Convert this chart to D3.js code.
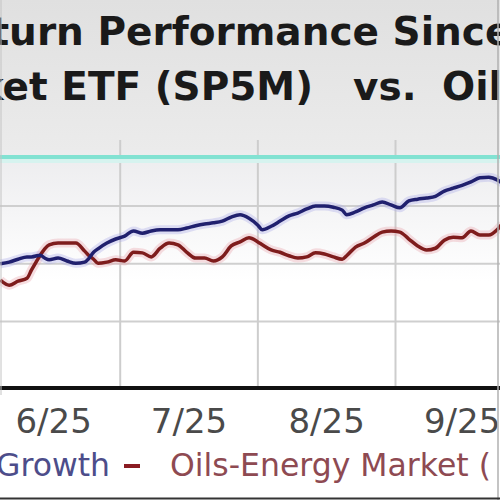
<!DOCTYPE html>
<html>
<head>
<meta charset="utf-8">
<script src="https://cdn.jsdelivr.net/npm/d3@7"></script>
<style>
	body { margin: 0; background: #fff; }
	svg { display: block; }
</style>
</head>
<body>
<div id="chart"></div>
<script>
// dates (day of the daily series), values are % return since start
let dates = [
	"2025-06-04", "2025-06-06", "2025-06-08", "2025-06-10", "2025-06-11", "2025-06-13", "2025-06-14", "2025-06-15",
	"2025-06-17", "2025-06-19", "2025-06-21", "2025-06-23", "2025-06-24", "2025-06-25", "2025-06-26", "2025-06-28",
	"2025-06-30", "2025-07-02", "2025-07-04", "2025-07-06", "2025-07-08", "2025-07-10", "2025-07-12", "2025-07-14",
	"2025-07-16", "2025-07-18", "2025-07-20", "2025-07-22", "2025-07-24", "2025-07-26", "2025-07-28", "2025-07-30",
	"2025-08-01", "2025-08-02", "2025-08-04", "2025-08-06", "2025-08-08", "2025-08-10", "2025-08-12", "2025-08-14",
	"2025-08-16", "2025-08-18", "2025-08-20", "2025-08-21", "2025-08-23", "2025-08-25", "2025-08-27", "2025-08-29",
	"2025-08-31", "2025-09-02", "2025-09-04", "2025-09-06", "2025-09-08", "2025-09-10", "2025-09-12", "2025-09-14",
	"2025-09-16", "2025-09-18", "2025-09-20", "2025-09-22", "2025-09-24", "2025-09-25"
];
let growth = [
	0.0, 0.3, 0.8, 1.2, 1.2, 1.5, 1.0, 0.7,
	1.0, 0.5, 0.1, 0.3, 1.0, 2.0, 2.6, 3.6,
	4.3, 4.8, 5.7, 5.3, 5.7, 5.9, 5.9, 5.9,
	6.2, 6.6, 6.9, 7.1, 7.4, 8.1, 8.5, 7.9,
	6.7, 5.9, 6.5, 7.4, 8.3, 8.8, 9.5, 10.0,
	10.0, 9.8, 9.3, 8.5, 9.0, 9.7, 10.2, 10.7,
	10.2, 9.7, 10.9, 11.2, 11.4, 11.7, 12.6, 13.1,
	13.6, 14.2, 14.9, 15.0, 14.5, 14.0
];
let oils = [
	-2.8, -3.7, -3.0, -2.5, -1.1, 1.5, 2.6, 3.3,
	3.6, 3.6, 3.6, 2.2, 1.4, 0.8, 0.1, 0.3,
	0.7, 0.5, 2.0, 1.9, 1.2, 2.7, 3.6, 3.3,
	2.0, 1.0, 1.0, 0.5, 1.2, 3.1, 3.8, 4.5,
	3.8, 3.3, 2.4, 2.0, 1.4, 1.0, 1.2, 1.9,
	1.7, 1.2, 0.8, 1.4, 2.9, 3.6, 4.6, 5.5,
	5.7, 5.5, 4.3, 3.1, 2.4, 2.7, 4.1, 4.6,
	4.5, 5.7, 5.0, 5.0, 6.0, 6.9
];
let gridValues = [-10, 0, 10];
let titleLine1 = "Return Performance Since";
let titleLine2 = ["Market ETF (SP5M)", "vs.", "Oils-Energy"];
let legendLabels = ["Growth", "Oils-Energy Market ("];

let panel = {
	width: 500,
	height: 500
};

let parse = d3.timeParse("%Y-%m-%d");
let rows = dates.map((d, i) => {
	return { date: parse(d), growth: growth[i], oils: oils[i] };
});

let svg = d3.select("#chart")
	.append("svg")
	.attr("width", panel.width)
	.attr("height", panel.height);

let defs = svg.append("defs");
let bg = defs.append("linearGradient").attr("id", "bg").attr("x1", 0).attr("y1", 0).attr("x2", 0).attr("y2", 1);
bg.append("stop").attr("offset", "0%").attr("stop-color", "#e0e0e0");
bg.append("stop").attr("offset", "100%").attr("stop-color", "#ebebeb");
let plotBg = defs.append("linearGradient").attr("id", "plotBg").attr("x1", 0).attr("y1", 0).attr("x2", 0).attr("y2", 1);
plotBg.append("stop").attr("offset", "0%").attr("stop-color", "#ececee");
plotBg.append("stop").attr("offset", "55%").attr("stop-color", "#ffffff");
plotBg.append("stop").attr("offset", "100%").attr("stop-color", "#ffffff");

// header background
svg.append("rect")
	.attr("x", 0).attr("y", 0)
	.attr("width", panel.width).attr("height", 150)
	.attr("fill", "url(#bg)");

// plot area
let plot = { top: 150, bottom: 388 };
svg.append("rect")
	.attr("x", 0).attr("y", plot.top)
	.attr("width", panel.width).attr("height", plot.bottom - plot.top)
	.attr("fill", "url(#plotBg)");

let x = d3.scaleTime()
	.domain([new Date(2025, 5, 1), new Date(2025, 9, 1)])
	.range([-13, 528.7]);
let y = d3.scaleLinear()
	.domain([-21.5, 18.5])
	.range([388, 157]);

// horizontal grid
svg.append("g")
	.selectAll("line")
	.data(gridValues)
	.enter().append("line")
	.attr("x1", 0)
	.attr("x2", panel.width)
	.attr("y1", (d) => { return y(d); })
	.attr("y2", (d) => { return y(d); })
	.attr("stroke", "#cfcfcf")
	.attr("stroke-width", 2);

// vertical grid at month boundaries
let months = x.ticks(d3.timeMonth.every(1));
svg.append("g")
	.selectAll("line")
	.data(months)
	.enter().append("line")
	.attr("x1", (d) => { return x(d); })
	.attr("x2", (d) => { return x(d); })
	.attr("y1", 140)
	.attr("y2", plot.bottom)
	.attr("stroke", "#cdcdcd")
	.attr("stroke-width", 2);

// cyan top line
svg.append("rect")
	.attr("x", 0).attr("y", y(18.5) - 2)
	.attr("width", panel.width).attr("height", 4)
	.attr("fill", "#82e2d3");
svg.append("rect")
	.attr("x", 0).attr("y", y(18.5) + 2)
	.attr("width", panel.width).attr("height", 4)
	.attr("fill", "#d6f3ef");

// lines
let lineGrowth = d3.line()
	.x((d) => { return x(d.date); })
	.y((d) => { return y(d.growth); })
	.curve(d3.curveMonotoneX);
let lineOils = d3.line()
	.x((d) => { return x(d.date); })
	.y((d) => { return y(d.oils); })
	.curve(d3.curveMonotoneX);

svg.append("path").datum(rows).attr("d", lineOils)
	.attr("fill", "none").attr("stroke", "#e7a0a8").attr("stroke-width", 9).attr("opacity", 0.35);
svg.append("path").datum(rows).attr("d", lineGrowth)
	.attr("fill", "none").attr("stroke", "#a8a8e8").attr("stroke-width", 9).attr("opacity", 0.35);
svg.append("path").datum(rows).attr("d", lineOils)
	.attr("fill", "none").attr("stroke", "#7e1c1c").attr("stroke-width", 3.5).attr("stroke-linejoin", "round");
svg.append("path").datum(rows).attr("d", lineGrowth)
	.attr("fill", "none").attr("stroke", "#20206e").attr("stroke-width", 3.5).attr("stroke-linejoin", "round");

// x axis
svg.append("line")
	.attr("x1", 0).attr("x2", panel.width)
	.attr("y1", plot.bottom).attr("y2", plot.bottom)
	.attr("stroke", "#111").attr("stroke-width", 4);

let fmt = d3.timeFormat("%-m/%y");
svg.append("g")
	.selectAll("text")
	.data(months.slice(0, -1))
	.enter().append("text")
	.attr("x", (d) => { return (x(d) + x(d3.timeMonth.offset(d, 1))) / 2; })
	.attr("y", 433)
	.attr("text-anchor", "middle")
	.attr("font-family", "DejaVu Sans")
	.attr("font-size", 34)
	.attr("fill", "#4a4a4a")
	.text((d) => { return fmt(d); });

// title
svg.append("text")
	.attr("x", -66).attr("y", 45)
	.attr("font-family", "DejaVu Sans").attr("font-weight", "bold")
	.attr("font-size", 39).attr("fill", "#1a1a1a")
	.text(titleLine1);
let t2x = [313, 353, 442];
let t2anchor = ["end", "start", "start"];
svg.append("g")
	.selectAll("text")
	.data(titleLine2)
	.enter().append("text")
	.attr("x", (d, i) => { return t2x[i]; })
	.attr("y", 100)
	.attr("text-anchor", (d, i) => { return t2anchor[i]; })
	.attr("font-family", "DejaVu Sans").attr("font-weight", "bold")
	.attr("font-size", 39).attr("fill", "#1a1a1a")
	.text((d) => { return d; });

// legend
svg.append("text")
	.attr("x", 110).attr("y", 476)
	.attr("text-anchor", "end")
	.attr("font-family", "DejaVu Sans").attr("font-size", 31.5)
	.attr("fill", "#4d4d8a")
	.text(legendLabels[0]);
svg.append("line")
	.attr("x1", 124).attr("x2", 140)
	.attr("y1", 466).attr("y2", 466)
	.attr("stroke", "#8a1c22").attr("stroke-width", 4);
svg.append("text")
	.attr("x", 170).attr("y", 476)
	.attr("font-family", "DejaVu Sans").attr("font-size", 31.5)
	.attr("fill", "#8e4a52")
	.text(legendLabels[1]);

// frame edges
svg.append("line").attr("x1", 1).attr("x2", 1).attr("y1", 0).attr("y2", 395).attr("stroke", "#c4c4c4").attr("stroke-width", 1);
svg.append("line").attr("x1", 498).attr("x2", 498).attr("y1", 0).attr("y2", 500).attr("stroke", "#b0b0b0").attr("stroke-width", 1.5);
svg.append("line").attr("x1", 0).attr("x2", 500).attr("y1", 498.5).attr("y2", 498.5).attr("stroke", "#333").attr("stroke-width", 2);
</script>
</body>
</html>
